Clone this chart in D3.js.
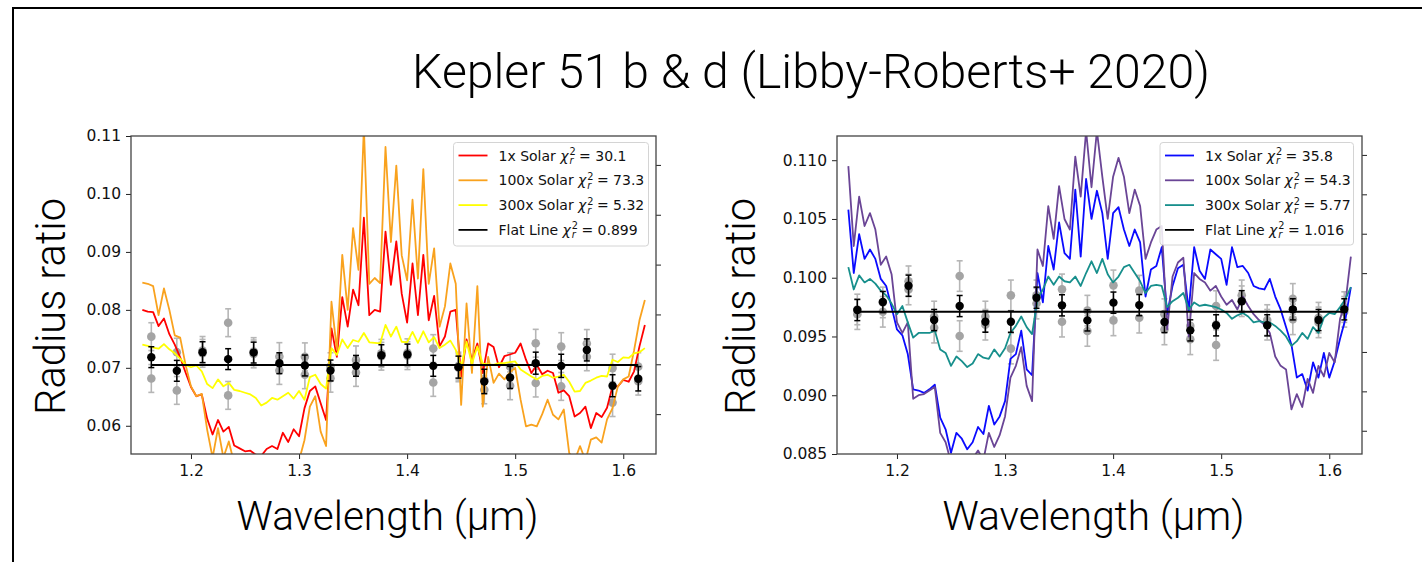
<!DOCTYPE html>
<html>
<head>
<meta charset="utf-8">
<script src="https://cdn.jsdelivr.net/npm/d3@7"></script>
<style>
  body { margin: 0; background: #fff; }
  svg { display: block; }
</style>
</head>
<body>
<svg id="chart" width="1422" height="562"></svg>
<script>
// ---------------------------------------------------------------
// Kepler-51 b & d transmission spectra with atmosphere models
// ---------------------------------------------------------------
const titleText = "Kepler 51 b & d (Libby-Roberts+ 2020)";
const xLabelText = "Wavelength (\u00b5m)";
const yLabelText = "Radius ratio";

// model wavelength grid (µm)
const modelWave = [
  1.155,1.160,1.165,1.170,1.175,1.180,1.185,1.190,1.195,1.200,
  1.205,1.210,1.215,1.220,1.225,1.230,1.235,1.240,1.245,1.250,
  1.255,1.260,1.265,1.270,1.275,1.280,1.285,1.290,1.295,1.300,
  1.305,1.310,1.315,1.320,1.325,1.330,1.335,1.340,1.345,1.350,
  1.355,1.360,1.365,1.370,1.375,1.380,1.385,1.390,1.395,1.400,
  1.405,1.410,1.415,1.420,1.425,1.430,1.435,1.440,1.445,1.450,
  1.455,1.460,1.465,1.470,1.475,1.480,1.485,1.490,1.495,1.500,
  1.505,1.510,1.515,1.520,1.525,1.530,1.535,1.540,1.545,1.550,
  1.555,1.560,1.565,1.570,1.575,1.580,1.585,1.590,1.595,1.600,
  1.605,1.610,1.615,1.620
];

// Kepler-51 b models
const bSolar1 = [
  .0800,.0797,.0796,.0772,.0785,.0758,.0740,.0718,.0692,.0667,
  .0651,.0654,.0612,.0585,.0610,.0590,.0598,.0566,.0561,.0556,
  .0557,.0550,.0548,.0560,.0565,.0560,.0588,.0572,.0594,.0582,
  .0630,.0660,.0668,.0639,.0610,.0768,.0719,.0822,.0771,.0835,
  .0808,.0959,.0791,.0800,.0797,.0935,.0843,.0918,.0828,.0778,
  .0880,.0791,.0895,.0782,.0824,.0737,.0754,.0797,.0800,.0685,
  .0749,.0714,.0742,.0691,.0742,.0736,.0701,.0720,.0723,.0726,
  .0742,.0714,.0691,.0705,.0689,.0695,.0691,.0657,.0661,.0651,
  .0616,.0622,.0633,.0596,.0622,.0615,.0631,.0668,.0668,.0679,
  .0676,.0694,.0737,.0774
];
const bSolar100 = [
  .0847,.0845,.0841,.0791,.0837,.0800,.0756,.0752,.0705,.0668,
  .0651,.0655,.0593,.0545,.0596,.0545,.0573,.0535,.0530,.0525,
  .0528,.0520,.0518,.0525,.0530,.0525,.0540,.0530,.0545,.0540,
  .0575,.0633,.0651,.0590,.0565,.0814,.0731,.0895,.0800,.0941,
  .0869,.1115,.0845,.0855,.0846,.1081,.0917,.1049,.0894,.0851,
  .0990,.0854,.1043,.0845,.0906,.0771,.0806,.0880,.0845,.0636,
  .0811,.0691,.0841,.0633,.0719,.0674,.0690,.0680,.0692,.0700,
  .0645,.0599,.0602,.0599,.0620,.0645,.0619,.0611,.0628,.0553,
  .0540,.0565,.0540,.0576,.0580,.0571,.0611,.0630,.0668,.0680,
  .0685,.0730,.0782,.0817
];
const bSolar300 = [
  .0740,.0738,.0735,.0733,.0741,.0732,.0725,.0716,.0705,.0701,
  .0704,.0694,.0672,.0665,.0680,.0668,.0674,.0662,.0660,.0657,
  .0654,.0648,.0635,.0640,.0648,.0645,.0651,.0657,.0647,.0660,
  .0645,.0684,.0688,.0672,.0664,.0734,.0722,.0749,.0734,.0748,
  .0745,.0760,.0744,.0743,.0742,.0774,.0754,.0771,.0745,.0744,
  .0762,.0743,.0763,.0744,.0753,.0734,.0740,.0747,.0731,.0702,
  .0745,.0707,.0737,.0707,.0706,.0705,.0708,.0708,.0710,.0711,
  .0697,.0691,.0685,.0680,.0686,.0688,.0683,.0685,.0688,.0676,
  .0659,.0660,.0674,.0678,.0683,.0686,.0685,.0714,.0710,.0718,
  .0717,.0725,.0727,.0734
];

// Kepler-51 d models
const dSolar1 = [
  .1058,.1004,.1037,.1016,.1024,.1016,.0999,.0993,.0975,.0956,
  .0951,.0935,.0905,.0904,.0902,.0905,.0909,.0881,.0871,.0851,
  .0868,.0863,.0854,.0860,.0873,.0867,.0891,.0875,.0882,.0895,
  .0931,.0935,.0955,.0922,.0917,.1004,.0979,.1027,.1007,.1047,
  .1021,.1016,.1075,.1018,.1084,.1050,.1074,.1055,.1016,.1055,
  .1060,.1041,.1027,.1041,.1030,.0984,.1007,.1010,.1026,.0969,
  .0993,.1008,.1011,.0972,.1026,.1006,.0999,.1024,.1020,.1016,
  .0994,.1026,.1009,.1010,.1004,.0993,.0991,.0990,.0999,.0984,
  .0973,.0958,.0943,.0915,.0918,.0904,.0928,.0915,.0936,.0915,
  .0929,.0948,.0965,.0992
];
const dSolar100 = [
  .1095,.1027,.1069,.1044,.1055,.1041,.1011,.1018,.1003,.0962,
  .0953,.0962,.0897,.0900,.0901,.0904,.0907,.0868,.0860,.0843,
  .0838,.0832,.0835,.0846,.0853,.0845,.0868,.0856,.0866,.0882,
  .0915,.0925,.0941,.0908,.0895,.1024,.1010,.1061,.1033,.1078,
  .1050,.1041,.1103,.1069,.1125,.1077,.1125,.1086,.1050,.1086,
  .1102,.1086,.1055,.1075,.1061,.1016,.1030,.1041,.1044,.0956,
  .1001,.1013,.1017,.0950,.1004,.0999,.0996,.0989,.0993,.0984,
  .0977,.0981,.0973,.0984,.0976,.0969,.0964,.0960,.0953,.0933,
  .0925,.0922,.0888,.0901,.0890,.0914,.0902,.0925,.0916,.0936,
  .0928,.0965,.0979,.1018
];
const dSolar300 = [
  .1009,.0990,.1002,.0996,.0999,.0995,.0989,.0985,.0978,.0969,
  .0976,.0962,.0949,.0953,.0953,.0953,.0955,.0939,.0936,.0925,
  .0933,.0929,.0924,.0927,.0935,.0932,.0931,.0939,.0933,.0940,
  .0953,.0959,.0967,.0958,.0952,.0982,.0990,.1001,.0994,.1001,
  .0997,.0996,.1001,.0993,.1004,.1014,.1004,.1016,.1003,.0996,
  .1001,.1009,.1011,.1004,.0997,.0987,.0993,.0994,.0993,.0975,
  .0980,.0983,.0987,.0973,.0979,.0976,.0977,.0976,.0975,.0973,
  .0970,.0965,.0968,.0970,.0967,.0962,.0963,.0962,.0962,.0959,
  .0955,.0950,.0942,.0946,.0953,.0948,.0958,.0953,.0966,.0970,
  .0969,.0975,.0982,.0992
];

// spectroscopic bins (µm)
const binWave = [
  1.1633,1.1869,1.2107,1.2344,1.2580,1.2818,1.3054,1.3291,1.3527,1.3762,
  1.4003,1.4242,1.4475,1.4714,1.4953,1.5190,1.5426,1.5663,1.5901,1.6139
];

// Kepler-51 b: combined and per-visit radius ratios
const bRadius = [.07184,.06948,.07270,.07150,.07263,.07080,.07040,.06954,.07034,.07218,
                 .07229,.07034,.07012,.06765,.06834,.07080,.07034,.07309,.06691,.06811];
const bErr    = [.0018,.0018,.0018,.0018,.0018,.0018,.0018,.0018,.0018,.0018,
                 .0018,.0018,.0019,.0021,.0019,.0019,.0020,.0019,.0019,.0021];
const bVisitA = [.07538,.07270,.07300,.07778,.07280,.07194,.07190,.07020,.07137,.07250,
                 .07260,.07332,.07030,.06790,.07020,.07424,.07366,.07420,.06995,.07020];
const bVisitB = [.06816,.06610,.07250,.06524,.07240,.06954,.06880,.06820,.06920,.07200,
                 .07210,.06748,.07000,.06620,.06690,.06737,.06679,.07190,.06400,.06770];
const bVisitErr = [.0024,.0024,.0024,.0024,.0024,.0024,.0024,.0024,.0024,.0024,
                   .0024,.0024,.0024,.0024,.0024,.0024,.0024,.0024,.0024,.0024];
const bFlat = 0.0705;

// Kepler-51 d: combined and per-visit radius ratios
const dRadius = [.09725,.09793,.09932,.09640,.09759,.09626,.09626,.09830,.09765,.09637,
                 .09788,.09767,.09623,.09552,.09595,.09800,.09595,.09731,.09640,.09731];
const dErr    = [.0009,.0009,.0009,.0009,.0009,.0009,.0009,.0009,.0009,.0009,
                 .0009,.0009,.0009,.0009,.0009,.0009,.0009,.0009,.0009,.0009];
const dVisitA = [.09730,.09790,.09970,.09670,.10014,.09670,.09850,.09850,.09901,.09720,
                 .09935,.09890,.09690,.09590,.09759,.09850,.09640,.09820,.09660,.09750];
const dVisitB = [.09690,.09710,.09900,.09575,.09504,.09600,.09397,.09780,.09626,.09547,
                 .09637,.09660,.09560,.09476,.09427,.09800,.09600,.09646,.09620,.09710];
const dVisitErr = [.0013,.0013,.0013,.0013,.0013,.0013,.0013,.0013,.0013,.0013,
                   .0013,.0013,.0013,.0013,.0013,.0013,.0013,.0013,.0013,.0013];
const dFlat = 0.0971;

// legend entries
const bLegendNames = ["1x Solar", "100x Solar", "300x Solar", "Flat Line"];
const bChi2 = ["30.1", "73.3", "5.32", "0.899"];
const dLegendNames = ["1x Solar", "100x Solar", "300x Solar", "Flat Line"];
const dChi2 = ["35.8", "54.3", "5.77", "1.016"];

// axis ticks
const xTicks = [1.2, 1.3, 1.4, 1.5, 1.6];
const bYTicks = [0.06, 0.07, 0.08, 0.09, 0.10, 0.11];
const dYTicks = [0.085, 0.090, 0.095, 0.100, 0.105, 0.110];
const bRightTicks = [0, 1, 2, 3, 4, 5];
const dRightTicks = [0, 1, 2, 3, 4, 5, 6, 7];

// ---------------------------------------------------------------
const LABEL_FONT = "'Roboto', 'Lato', 'Liberation Sans', sans-serif";
const TICK_FONT = "'DejaVu Sans', sans-serif";

const svg = d3.select("#chart");
svg.append("rect").attr("width", 1422).attr("height", 562).attr("fill", "#fff");
// slide frame
svg.append("rect")
  .attr("x", 13).attr("y", 8).attr("width", 1430).attr("height", 580)
  .attr("fill", "none").attr("stroke", "#000").attr("stroke-width", 2);

function fitWidth(sel, target) {
  const w = sel.node().getComputedTextLength();
  const fs = parseFloat(sel.attr("font-size"));
  sel.attr("font-size", fs * target / w);
}

const title = svg.append("text")
  .attr("x", 811).attr("y", 88)
  .attr("text-anchor", "middle")
  .attr("font-family", LABEL_FONT).attr("font-weight", 300)
  .attr("font-size", 46).attr("fill", "#000")
  .text(titleText);
fitWidth(title, 798);

function drawPanel(cfg, idx) {
  const { left, right, top, bottom } = cfg.box;
  const x = d3.scaleLinear().domain([1.1445, 1.6303]).range([left, right]);
  const y = d3.scaleLinear().domain(cfg.yDomain).range([bottom, top]);
  const yR = d3.scaleLinear().domain(cfg.rightDomain).range([bottom, top]);

  const g = svg.append("g");
  const clipId = "clip" + idx;
  g.append("clipPath").attr("id", clipId)
    .append("rect").attr("x", left).attr("y", top)
    .attr("width", right - left).attr("height", bottom - top);

  const plot = g.append("g").attr("clip-path", `url(#${clipId})`);

  // per-visit points (grey)
  [cfg.visitA, cfg.visitB].forEach(vals => {
    const pts = binWave.map((w, i) => ({ w, v: vals[i], e: cfg.visitErr[i] }));
    const eb = plot.append("g").attr("stroke", "#b6b6b6").attr("stroke-width", 1.6);
    pts.forEach(p => {
      eb.append("line").attr("x1", x(p.w)).attr("x2", x(p.w)).attr("y1", y(p.v - p.e)).attr("y2", y(p.v + p.e));
      eb.append("line").attr("x1", x(p.w) - 3).attr("x2", x(p.w) + 3).attr("y1", y(p.v - p.e)).attr("y2", y(p.v - p.e));
      eb.append("line").attr("x1", x(p.w) - 3).attr("x2", x(p.w) + 3).attr("y1", y(p.v + p.e)).attr("y2", y(p.v + p.e));
    });
    plot.append("g").selectAll("circle").data(pts).join("circle")
      .attr("cx", d => x(d.w)).attr("cy", d => y(d.v)).attr("r", 4.3)
      .attr("fill", "#a4a4a4");
  });

  // models
  const line = d3.line().x(d => x(d[0])).y(d => y(d[1]));
  cfg.models.forEach(m => {
    plot.append("path")
      .datum(modelWave.map((w, i) => [w, m.values[i]]))
      .attr("d", line).attr("fill", "none")
      .attr("stroke", m.color).attr("stroke-width", 1.8)
      .attr("stroke-linejoin", "round");
  });

  // flat line
  plot.append("path")
    .datum([[binWave[0], cfg.flat], [binWave[binWave.length - 1], cfg.flat]])
    .attr("d", line).attr("fill", "none").attr("stroke", "#000").attr("stroke-width", 2);

  // combined points (black)
  const pts = binWave.map((w, i) => ({ w, v: cfg.radius[i], e: cfg.err[i] }));
  const eb = plot.append("g").attr("stroke", "#000").attr("stroke-width", 1.5);
  pts.forEach(p => {
    eb.append("line").attr("x1", x(p.w)).attr("x2", x(p.w)).attr("y1", y(p.v - p.e)).attr("y2", y(p.v + p.e));
    eb.append("line").attr("x1", x(p.w) - 3).attr("x2", x(p.w) + 3).attr("y1", y(p.v - p.e)).attr("y2", y(p.v - p.e));
    eb.append("line").attr("x1", x(p.w) - 3).attr("x2", x(p.w) + 3).attr("y1", y(p.v + p.e)).attr("y2", y(p.v + p.e));
  });
  plot.append("g").selectAll("circle").data(pts).join("circle")
    .attr("cx", d => x(d.w)).attr("cy", d => y(d.v)).attr("r", 4.2)
    .attr("fill", "#000");

  // axes
  const styleAxis = a => {
    a.selectAll(".domain").remove();
    a.selectAll(".tick line").attr("stroke", "#222").attr("stroke-width", 1);
    a.selectAll(".tick text").attr("font-family", TICK_FONT).attr("font-size", 15.5).attr("fill", "#111");
  };
  g.append("g").attr("transform", `translate(0,${bottom})`)
    .call(d3.axisBottom(x).tickValues(xTicks).tickFormat(d3.format(".1f")).tickSize(5).tickPadding(6))
    .call(styleAxis);
  g.append("g").attr("transform", `translate(${left},0)`)
    .call(d3.axisLeft(y).tickValues(cfg.yTicks).tickFormat(d3.format(cfg.yFmt)).tickSize(5).tickPadding(5))
    .call(styleAxis);
  g.append("g").attr("transform", `translate(${right},0)`)
    .call(d3.axisRight(yR).tickValues(cfg.rightTicks).tickFormat("").tickSize(5))
    .call(styleAxis);

  // frame
  g.append("rect").attr("x", left).attr("y", top)
    .attr("width", right - left).attr("height", bottom - top)
    .attr("fill", "none").attr("stroke", "#444").attr("stroke-width", 1.3);

  // axis labels
  const xl = g.append("text")
    .attr("x", (left + right) / 2 - 6).attr("y", 530)
    .attr("text-anchor", "middle")
    .attr("font-family", LABEL_FONT).attr("font-weight", 300)
    .attr("font-size", 40).attr("fill", "#000").text(xLabelText);
  fitWidth(xl, 302);
  const yl = g.append("text")
    .attr("transform", `translate(${cfg.yLabelX},306.5) rotate(-90)`)
    .attr("text-anchor", "middle")
    .attr("font-family", LABEL_FONT).attr("font-weight", 300)
    .attr("font-size", 40).attr("fill", "#000").text(yLabelText);
  fitWidth(yl, 217);

  // legend
  const L = cfg.legend;
  const lg = g.append("g");
  lg.append("rect").attr("x", L.x).attr("y", L.y).attr("width", L.w).attr("height", L.h)
    .attr("rx", 3).attr("fill", "#fff").attr("fill-opacity", 0.85)
    .attr("stroke", "#d4d4d4").attr("stroke-width", 1);
  const colors = cfg.models.map(m => m.color).concat(["#000"]);
  cfg.legendNames.forEach((name, i) => {
    const cy = L.y + 13 + i * 24.8;
    lg.append("line").attr("x1", L.x + 5).attr("x2", L.x + 34)
      .attr("y1", cy).attr("y2", cy)
      .attr("stroke", colors[i]).attr("stroke-width", 1.8);
    const tx = L.x + 45, base = cy + 5;
    const t = lg.append("text").attr("x", tx).attr("y", base)
      .attr("font-family", TICK_FONT).attr("font-size", 14).attr("fill", "#111");
    t.append("tspan").text(name + " ");
    t.append("tspan").attr("font-style", "italic").text("\u03c7");
    const w = t.node().getComputedTextLength();
    const sx = tx + w + 0.8;
    const sup = lg.append("text").attr("x", sx).attr("y", base - 5.5)
      .attr("font-family", TICK_FONT).attr("font-size", 9.8).attr("fill", "#111").text("2");
    lg.append("text").attr("x", sx).attr("y", base + 3.5)
      .attr("font-family", TICK_FONT).attr("font-size", 9.8).attr("font-style", "italic")
      .attr("fill", "#111").text("r");
    const sw = sup.node().getComputedTextLength();
    lg.append("text").attr("x", sx + sw + 3.5).attr("y", base)
      .attr("font-family", TICK_FONT).attr("font-size", 14).attr("fill", "#111")
      .text("= " + cfg.chi2[i]);
  });
}

drawPanel({
  box: { left: 131, right: 656, top: 136, bottom: 454 },
  yDomain: [0.05513, 0.11], yTicks: bYTicks, yFmt: ".2f",
  rightDomain: [-0.80, 5.58], rightTicks: bRightTicks,
  models: [
    { values: bSolar1, color: "#ff0000" },
    { values: bSolar100, color: "#f9a21e" },
    { values: bSolar300, color: "#ffff00" }
  ],
  flat: bFlat, radius: bRadius, err: bErr,
  visitA: bVisitA, visitB: bVisitB, visitErr: bVisitErr,
  yLabelX: 65,
  legend: { x: 453.5, y: 142.5, w: 195, h: 103.5 },
  legendNames: bLegendNames, chi2: bChi2
}, 0);

drawPanel({
  box: { left: 837, right: 1362, top: 136, bottom: 454 },
  yDomain: [0.085, 0.11206], yTicks: dYTicks, yFmt: ".3f",
  rightDomain: [-0.59, 7.48], rightTicks: dRightTicks,
  models: [
    { values: dSolar1, color: "#0a0aff" },
    { values: dSolar100, color: "#6a4596" },
    { values: dSolar300, color: "#178f8c" }
  ],
  flat: dFlat, radius: dRadius, err: dErr,
  visitA: dVisitA, visitB: dVisitB, visitErr: dVisitErr,
  yLabelX: 755,
  legend: { x: 1160, y: 142.5, w: 193.5, h: 102.5 },
  legendNames: dLegendNames, chi2: dChi2
}, 1);
</script>
</body>
</html>
